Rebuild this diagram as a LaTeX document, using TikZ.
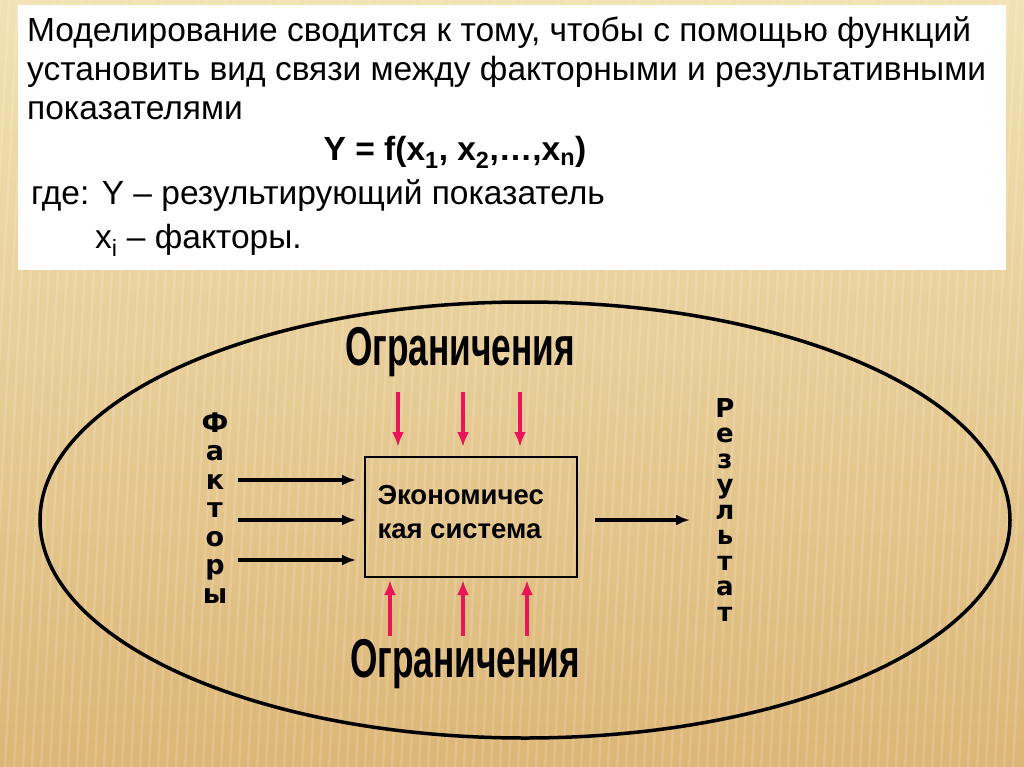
\documentclass[tikz,border=0pt]{standalone}
\usepackage{fontspec}
\setmainfont{Liberation Sans}
\newfontfamily\wide{DejaVu Sans}
\usetikzlibrary{arrows.meta}
\definecolor{bgtop}{RGB}{242,226,180}
\definecolor{bgbot}{RGB}{220,182,118}
\definecolor{pinkc}{RGB}{235,20,90}
\tikzset{
 body/.style={anchor=base west,inner sep=0pt,font=\fontsize{33.5}{33.5}\selectfont},
 ogr/.style={font=\bfseries\fontsize{42}{42}\selectfont,xscale=0.84,yscale=1.3,text=black,inner sep=0pt},
 parr/.style={draw=pinkc,line width=4pt,-{Latex[length=15pt,width=12pt]}},
 barr/.style={draw=black,line width=4pt,-{Latex[length=14pt,width=11pt]}},
 vert/.style={align=center,inner sep=0pt}
}
\begin{document}
\begin{tikzpicture}[x=1pt,y=-1pt]
\useasboundingbox (0,0) rectangle (1024,767);
\shade[top color=bgtop,bottom color=bgbot] (0,0) rectangle (1024,767);
\foreach \i in {0,9,...,1060} \draw[white,opacity=0.15,line width=2.5pt] (\i,0) -- (\i-40,767);
\fill[white] (18,5) rectangle (1006,270);
\node[body] (l1) at (27,42) {Моделирование сводится к тому, чтобы с помощью функций};
\node[body] (l2) at (27,81) {установить вид связи между факторными и результативными};
\node[body] (l3) at (27,120) {показателями};
\node[anchor=base,inner sep=0pt,font=\bfseries\fontsize{33.5}{33.5}\selectfont] (f) at (455,161) {Y = f(x\textsubscript{1}, x\textsubscript{2},\ldots,x\textsubscript{n})};
\node[body] (l4) at (31,205) {где: Y – результирующий показатель};
\node[body] (l5) at (95,248) {x\textsubscript{i} – факторы.};
\draw[line width=3.5pt] (525,520) ellipse [x radius=485, y radius=218] node (ell) {};
\node[ogr] (ot) at (460,352) {Ограничения};
\node[ogr] (ob) at (465,664) {Ограничения};
\node[draw,line width=1.8pt,minimum width=212pt,minimum height=120pt] (sys) at (471,517) {};
\node[anchor=west,align=left,font=\bfseries\fontsize{27.5}{34}\selectfont] (st) at (374,512) {Экономичес\\кая система};
\foreach \x in {398,463,520} { \coordinate (ta\x) at (\x,392); \draw[parr] (ta\x) -- (\x,447); }
\foreach \x in {390,463,527} { \coordinate (ba\x) at (\x,636); \draw[parr] (ba\x) -- (\x,580); }
\foreach \y in {480,520,560} { \coordinate (la\y) at (238,\y); \draw[barr,shorten >=8pt] (la\y) -- (sys.west |- la\y); }
\coordinate (out) at (690,520);
\coordinate (outs) at (595,520);
\draw[barr] (outs) -- (out);
\node[vert,font=\wide\bfseries\fontsize{27}{28.5}\selectfont] (fak) at (215,508) {Ф\\а\\к\\т\\о\\р\\ы};
\node[vert,font=\wide\bfseries\fontsize{26}{25.5}\selectfont] (res) at (725,510) {Р\\е\\з\\у\\л\\ь\\т\\а\\т};
\end{tikzpicture}
\end{document}
